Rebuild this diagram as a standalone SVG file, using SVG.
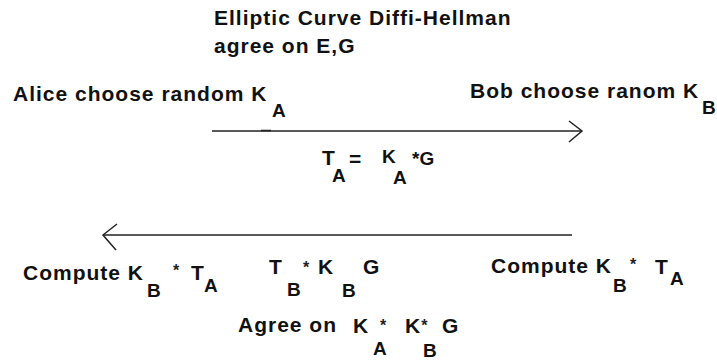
<svg xmlns="http://www.w3.org/2000/svg" width="717" height="360" viewBox="0 0 717 360">
<style>
.t{font-family:"Liberation Sans",Arial,sans-serif;font-weight:bold;font-size:21px;letter-spacing:1px;fill:#111}
.s{font-family:"Liberation Sans",Arial,sans-serif;font-weight:bold;font-size:19px;fill:#111}
.a{font-family:"Liberation Sans",Arial,sans-serif;font-weight:bold;font-size:16px;fill:#222}
.ln{stroke:#222;stroke-width:1.5;fill:none}
</style>
<rect width="717" height="360" fill="#fff"/>
<g id="title">
<text class="t" x="214" y="25">Elliptic Curve Diffi-Hellman</text>
<text class="t" x="214" y="53">agree on E,G</text>
</g>
<g id="alice">
<text class="t" x="13" y="101">Alice choose random K</text>
<text class="s" x="272" y="117">A</text>
</g>
<g id="bob">
<text class="t" x="470" y="98">Bob choose ranom K</text>
<text class="s" x="702" y="114">B</text>
</g>
<g id="connectors">
<path class="ln" d="M212 131 H582"/>
<path class="ln" d="M261 130.5 H271" stroke-width="3"/>
<path class="ln" d="M569 121 L582 131 L569 142"/>
<path class="ln" d="M103 235 H572"/>
<path class="ln" d="M117 224 L103 235 L116 250"/>
</g>
<g id="ta">
<text class="t" x="322" y="165">T</text>
<text class="s" x="332" y="182">A</text>
<text class="t" x="349" y="166">=</text>
<text class="s" x="382" y="163">K</text>
<text class="s" x="393" y="184">A</text>
<text class="s" x="412" y="165">*G</text>
</g>
<g id="computeA">
<text class="t" x="23" y="280">Compute K</text>
<text class="s" x="147" y="297">B</text>
<text class="a" x="173" y="276">*</text>
<text class="t" x="191" y="280">T</text>
<text class="s" x="204" y="292">A</text>
</g>
<g id="tb">
<text class="t" x="269" y="274">T</text>
<text class="s" x="287" y="296">B</text>
<text class="a" x="303" y="273">*</text>
<text class="t" x="318" y="274">K</text>
<text class="s" x="342" y="297">B</text>
<text class="t" x="363" y="274">G</text>
</g>
<g id="computeB">
<text class="t" x="491" y="273">Compute K</text>
<text class="s" x="613" y="292">B</text>
<text class="a" x="630" y="270">*</text>
<text class="t" x="655" y="274">T</text>
<text class="s" x="670" y="285">A</text>
</g>
<g id="agree">
<text class="t" x="238" y="332">Agree on</text>
<text class="t" x="353" y="333">K</text>
<text class="a" x="380" y="331">*</text>
<text class="s" x="373" y="355">A</text>
<text class="t" x="405" y="333">K<tspan font-size="16" fill="#222" dy="-2">*</tspan></text>
<text class="t" x="442" y="333">G</text>
<text class="s" x="423" y="357">B</text>
</g>
</svg>
